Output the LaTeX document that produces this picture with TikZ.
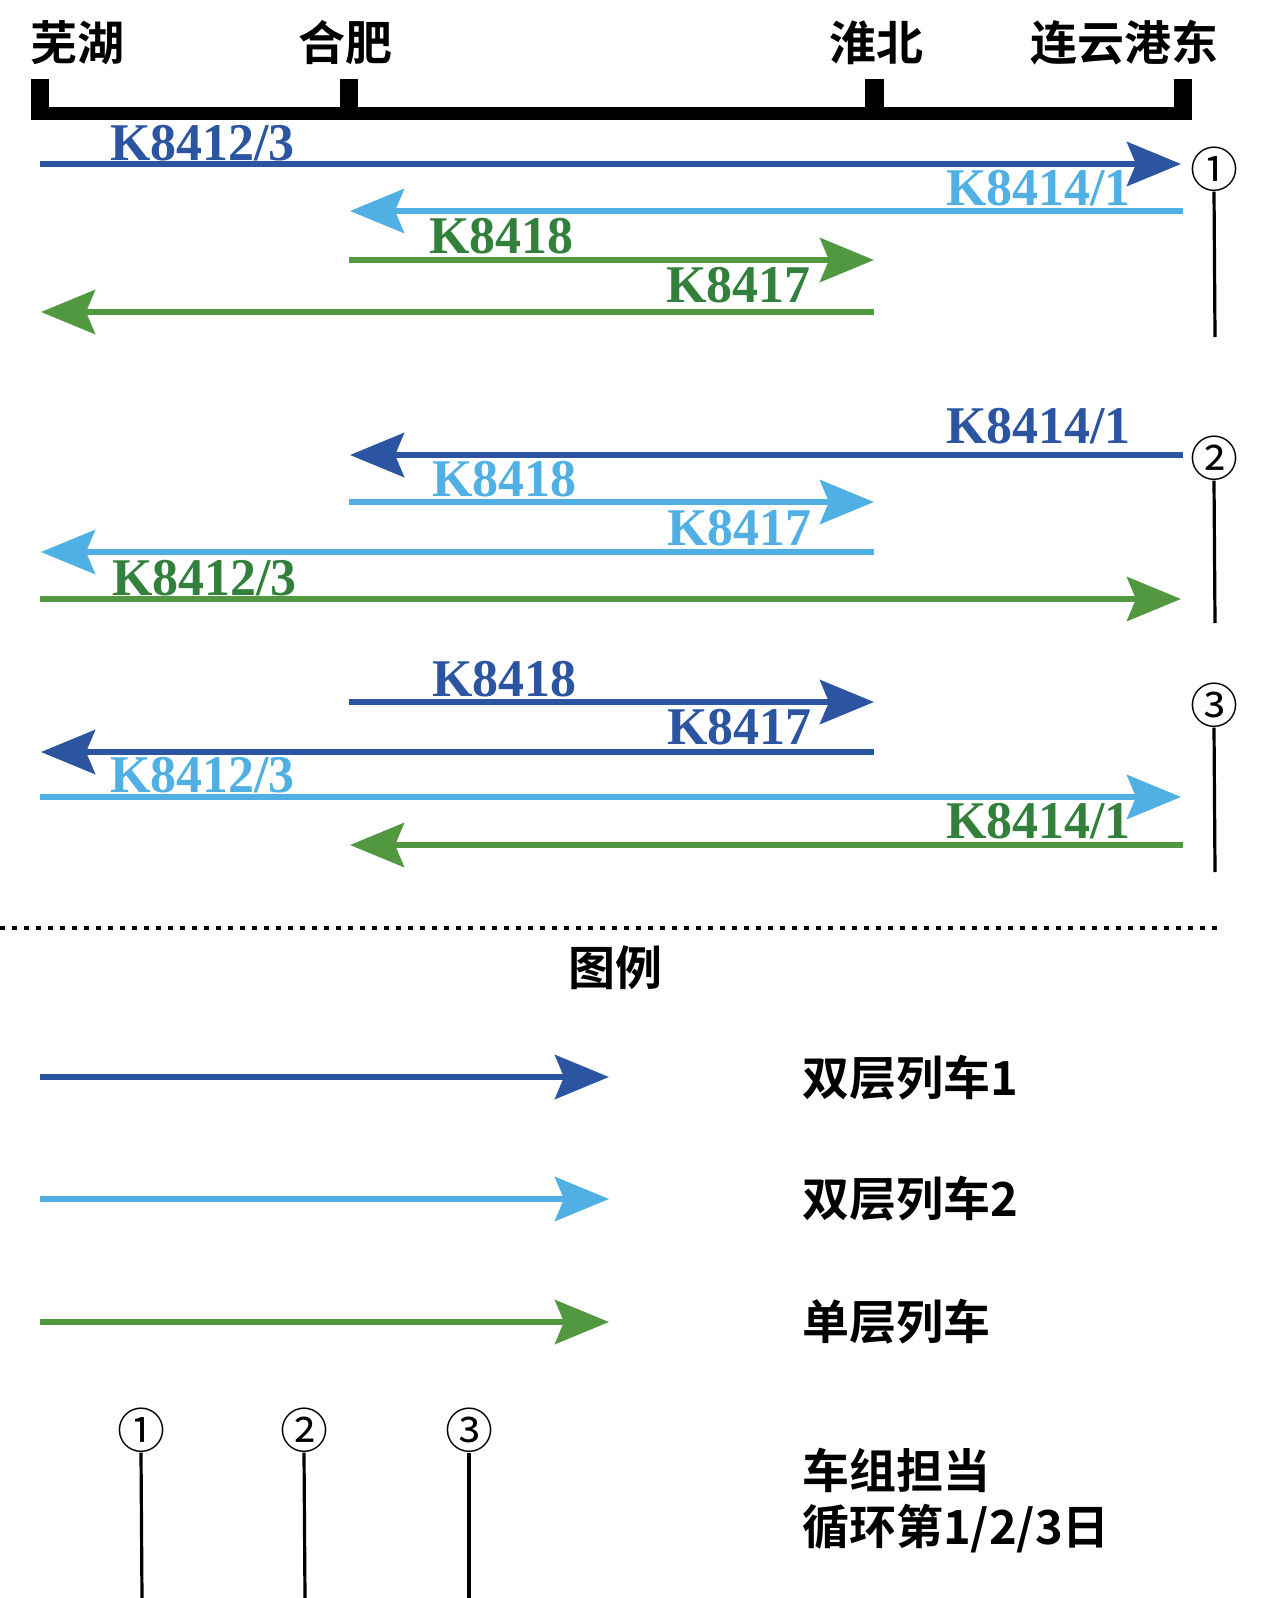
\documentclass[tikz,border=0pt]{standalone}
\usepackage{fontspec}
\usetikzlibrary{arrows.meta}
\newfontfamily\cjkb{Noto Sans CJK SC Bold}
\newfontfamily\cjkr{Noto Sans CJK SC}
\newfontfamily\trainfont[FakeStretch=0.98]{Liberation Serif Bold}
\definecolor{cdark}{RGB}{43,84,161}
\definecolor{clight}{RGB}{80,176,228}
\definecolor{cgreen}{RGB}{82,152,64}
\definecolor{cgreentxt}{RGB}{50,128,60}
\newcommand\trainarrow[5]{%
  \coordinate (#5s) at (#2,#4);
  \coordinate (#5e) at (#3,#4);
  \draw[#1] (#5s) -- (#5e);}
\begin{document}
\begin{tikzpicture}[x=1pt,y=-1pt,
  arr/.style={line width=6pt,-{Stealth[length=54pt,width=44pt,inset=9pt]}},
  adark/.style={arr,draw=cdark,fill=cdark},
  alight/.style={arr,draw=clight,fill=clight},
  agreen/.style={arr,draw=cgreen,fill=cgreen},
  station/.style={inner sep=0pt,font=\cjkb\fontsize{47}{50}\selectfont},
  legtext/.style={inner sep=0pt,anchor=west,font=\cjkb\fontsize{47}{50}\selectfont},
  tlabel/.style={inner sep=0pt,anchor=base west,font=\trainfont\fontsize{53}{56}\selectfont},
  ldark/.style={tlabel,text=cdark},
  llight/.style={tlabel,text=clight},
  lgreen/.style={tlabel,text=cgreentxt},
  circnum/.style={inner sep=0pt,font=\cjkr\fontsize{48}{50}\selectfont},
  stem/.style={line width=3.2pt,black},
  tickbar/.style={fill=black,draw=none}]
\useasboundingbox (0,0) rectangle (1270,1598);
\fill[white] (0,0) rectangle (1270,1598);

% stations
\node[station] (wuhu) at (77,43) {芜湖};
\node[station] (hefei) at (345,43) {合肥};
\node[station] (huaibei) at (876,43) {淮北};
\node[station] (lyg) at (1124,43) {连云港东};

% axis bar with ticks
\fill[tickbar] (31,107) rectangle (1192,120);
\fill[tickbar] (31,79) rectangle (49,120);
\fill[tickbar] (340,79) rectangle (358,120);
\fill[tickbar] (865,79) rectangle (884,120);
\fill[tickbar] (1174,79) rectangle (1192,120);

% ---- day 1
\trainarrow{adark}{40}{1181}{164}{a1}
\trainarrow{alight}{1183}{350}{211}{a2}
\trainarrow{agreen}{349}{874}{260}{a3}
\trainarrow{agreen}{874}{41}{312}{a4}
\node[ldark] (l1) at (110,160) {K8412/3};
\node[llight] (l2) at (946,205) {K8414/1};
\node[lgreen] (l3) at (429,253) {K8418};
\node[lgreen] (l4) at (666,302) {K8417};

% ---- day 2
\trainarrow{adark}{1183}{350}{455}{b1}
\trainarrow{alight}{349}{874}{502}{b2}
\trainarrow{alight}{874}{41}{552}{b3}
\trainarrow{agreen}{40}{1181}{599}{b4}
\node[ldark] (m1) at (946,443) {K8414/1};
\node[llight] (m2) at (432,496) {K8418};
\node[llight] (m3) at (667,545) {K8417};
\node[lgreen] (m4) at (112,595) {K8412/3};

% ---- day 3
\trainarrow{adark}{349}{874}{702}{c1}
\trainarrow{adark}{874}{41}{752}{c2}
\trainarrow{alight}{40}{1181}{797}{c3}
\trainarrow{agreen}{1183}{350}{845}{c4}
\node[ldark] (n1) at (432,696) {K8418};
\node[ldark] (n2) at (667,744) {K8417};
\node[llight] (n3) at (110,792) {K8412/3};
\node[lgreen] (n4) at (946,838) {K8414/1};

% day markers
\node[circnum] (d1) at (1214,169) {①};
\coordinate (d1e) at (1215,337);
\draw[stem] (d1.south) -- (d1e);
\node[circnum] (d2) at (1214,458) {②};
\coordinate (d2e) at (1215,623);
\draw[stem] (d2.south) -- (d2e);
\node[circnum] (d3) at (1214,705) {③};
\coordinate (d3e) at (1215,872);
\draw[stem] (d3.south) -- (d3e);

% separator
\draw[line width=3.5pt,dash pattern=on 4.5pt off 7.5pt] (0,928) -- (1224,928);

% legend
\node[station] (legend) at (615,968) {图例};
\trainarrow{adark}{40}{609}{1077}{g1}
\trainarrow{alight}{40}{609}{1199}{g2}
\trainarrow{agreen}{40}{609}{1322}{g3}
\node[legtext] (t1) at (802,1078) {双层列车1};
\node[legtext] (t2) at (802,1199) {双层列车2};
\node[legtext] (t3) at (802,1322) {单层列车};
\node[legtext] (t4) at (802,1470) {车组担当};
\node[legtext] (t5) at (802,1529) {循环第1/2/3日};

\node[circnum] (e1) at (141,1430) {①};
\coordinate (e1e) at (142,1598);
\draw[stem] (e1.south) -- (e1e);
\node[circnum] (e2) at (304,1430) {②};
\coordinate (e2e) at (305,1598);
\draw[stem] (e2.south) -- (e2e);
\node[circnum] (e3) at (469,1430) {③};
\coordinate (e3e) at (469,1598);
\draw[stem] (e3.south) -- (e3e);
\end{tikzpicture}
\end{document}
